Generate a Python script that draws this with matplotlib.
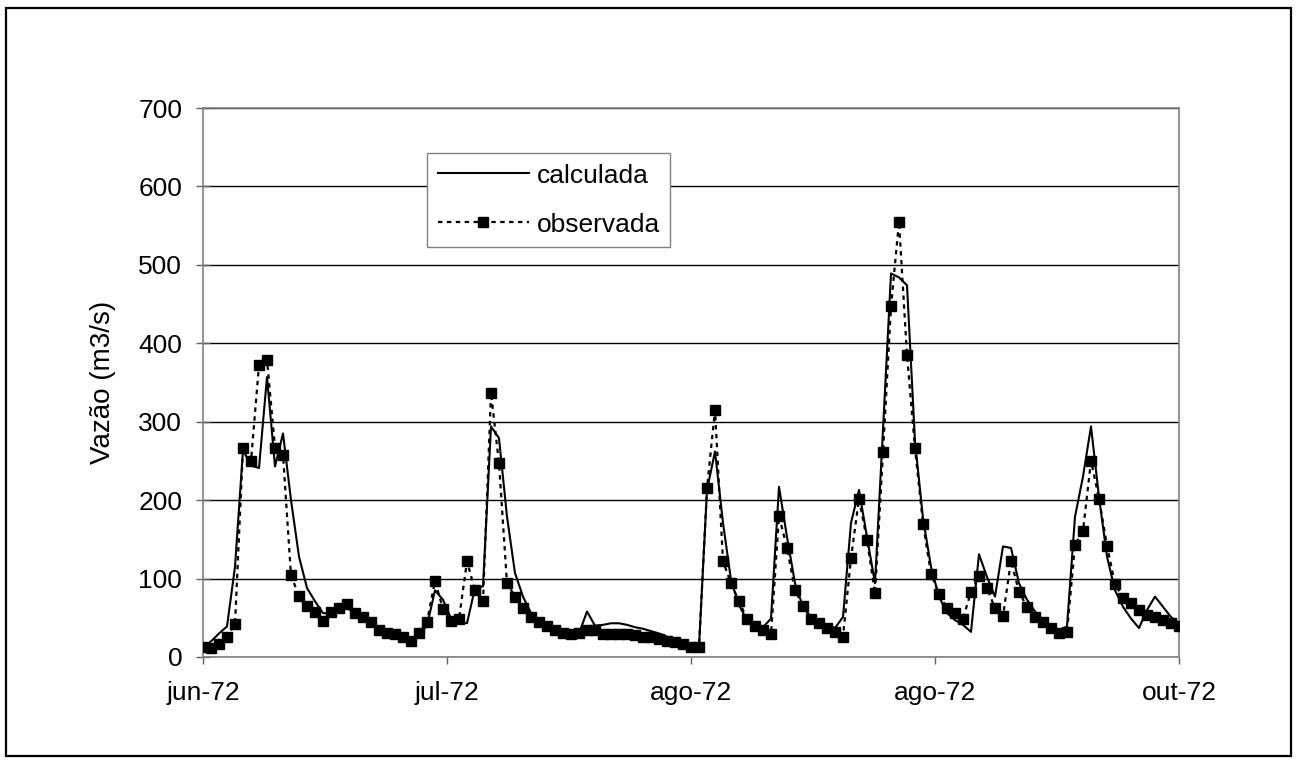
import matplotlib
matplotlib.use('Agg')
from matplotlib import pyplot as plt
from matplotlib.patches import Rectangle
import numpy as np

plt.rcParams['font.family'] = ['Liberation Sans', 'DejaVu Sans']

# vazões diárias (m3/s), de jun-72 até out-72
observada = [13, 11, 17, 26, 42, 267, 250, 372, 379, 267,
             258, 104, 78, 65, 58, 46, 58, 62, 68, 56,
             51, 44, 34, 30, 29, 26, 21, 30, 45, 97,
             61, 46, 49, 122, 85, 71, 337, 247, 94, 77,
             62, 51, 45, 40, 35, 30, 29, 30, 35, 34,
             29, 29, 29, 29, 28, 26, 25, 23, 21, 19,
             16, 13, 13, 215, 315, 122, 94, 71, 49, 40,
             34, 29, 180, 139, 85, 65, 49, 43, 37, 32,
             26, 126, 202, 149, 81, 261, 447, 555, 385, 266,
             170, 106, 80, 62, 56, 49, 83, 103, 88, 62,
             52, 123, 83, 64, 51, 44, 37, 30, 32, 143,
             161, 250, 202, 142, 93, 75, 69, 60, 54, 51,
             47, 43, 39]

calculada = [12, 20, 30, 39, 115, 264, 244, 241, 357, 243,
             285, 200, 128, 88, 71, 56, 55, 60, 62, 57,
             50, 44, 36, 31, 29, 27, 24, 28, 40, 85,
             73, 49, 45, 43, 88, 90, 294, 279, 179, 107,
             77, 56, 46, 40, 33, 30, 30, 30, 58, 40,
             41, 43, 43, 41, 38, 36, 33, 30, 26, 22,
             18, 14, 13, 213, 262, 171, 98, 66, 47, 41,
             38, 49, 217, 153, 94, 64, 51, 45, 41, 37,
             51, 171, 213, 153, 94, 290, 489, 484, 474, 275,
             177, 115, 77, 56, 47, 41, 32, 131, 102, 77,
             141, 139, 94, 73, 58, 47, 39, 34, 39, 179,
             230, 294, 204, 128, 85, 64, 49, 37, 60, 77,
             64, 51, 43]

dias = np.arange(len(observada))
meses = ['jun-72', 'jul-72', 'ago-72', 'ago-72', 'out-72']
pos_meses = np.linspace(0, dias[-1], len(meses))

fig = plt.figure(figsize=(12.98, 7.64), dpi=100)
ax = fig.add_axes([203/1298, 1 - 657/764, 976/1298, 549/764])

# moldura externa do gráfico
fig.patches.append(Rectangle((6/1298, 8/764), 1285/1298, 748/764,
                             transform=fig.transFigure, fill=False,
                             edgecolor='black', linewidth=1.6))

ax.plot(dias, calculada, color='black', linewidth=1.5, label='calculada', zorder=3)
ax.plot(dias, observada, color='black', linewidth=1.6, linestyle=(0, (2, 2)),
        marker='s', markersize=6.5, label='observada', zorder=4)

ax.set_xlim(0, dias[-1])
ax.set_ylim(0, 700)
ax.set_yticks(range(0, 701, 100))
ax.set_xticks(pos_meses)
ax.set_xticklabels(meses)
ax.grid(axis='y', color='black', linewidth=1)
ax.set_axisbelow(True)

for lado in ['left', 'bottom', 'right', 'top']:
    ax.spines[lado].set_color('#808080')
    ax.spines[lado].set_linewidth(1.2)
ax.tick_params(axis='y', direction='inout', length=10, width=1, color='#606060',
               labelsize=19, pad=10)
ax.tick_params(axis='x', direction='out', length=5, width=1, color='#606060',
               labelsize=19, pad=12)

ax.set_ylabel('Vazão (m3/s)', fontsize=20, labelpad=16)

leg = ax.legend(loc='upper left', bbox_to_anchor=(0.2295, 0.918), fontsize=19,
                handlelength=3.45, fancybox=False, edgecolor='#808080',
                framealpha=1, borderpad=0.4, labelspacing=0.95, handletextpad=0.3,
                borderaxespad=0)
leg.get_frame().set_linewidth(1)

fig.savefig('out.png', dpi=100)
